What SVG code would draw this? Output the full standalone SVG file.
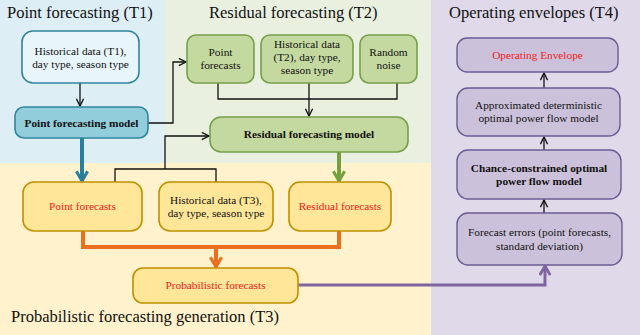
<svg xmlns="http://www.w3.org/2000/svg" width="640" height="335" viewBox="0 0 640 335" font-family="Liberation Serif, Tinos, DejaVu Serif, serif">
<defs>
<style>
text{font-family:'Liberation Serif',Tinos,'DejaVu Serif',serif;font-size:11.3px;fill:#111;text-anchor:middle}
.title{font-size:16.5px;text-anchor:start;fill:#111}
.b{font-weight:bold}
.red{fill:#f02020}
.blueL{fill:#e8f5fa;stroke:#31859c;stroke-width:1.6}
.blueD{fill:#92cddc;stroke:#31859c;stroke-width:1.6}
.green{fill:#c4d9a0;stroke:#76a04a;stroke-width:1.6}
.yellow{fill:#ffe699;stroke:#bf9000;stroke-width:1.6}
.purple{fill:#ccc1da;stroke:#6e5c94;stroke-width:1.4}
.thin{fill:none;stroke:#111;stroke-width:1.3}
</style>
<marker id="ak" viewBox="0 0 10 10" refX="9" refY="5" markerWidth="9" markerHeight="9" markerUnits="userSpaceOnUse" orient="auto"><path d="M1,1 L9,5 L1,9" fill="none" stroke="#111" stroke-width="1.5"/></marker>
<marker id="ab" viewBox="0 0 10 10" refX="8.5" refY="5" markerWidth="14" markerHeight="14" markerUnits="userSpaceOnUse" orient="auto"><path d="M1.5,1 L8.5,5 L1.5,9" fill="none" stroke="#2b7f9e" stroke-width="2.2"/></marker>
<marker id="ag" viewBox="0 0 10 10" refX="8.5" refY="5" markerWidth="14" markerHeight="14" markerUnits="userSpaceOnUse" orient="auto"><path d="M1.5,1 L8.5,5 L1.5,9" fill="none" stroke="#76a040" stroke-width="2.2"/></marker>
<marker id="ao" viewBox="0 0 10 10" refX="8.5" refY="5" markerWidth="14" markerHeight="14" markerUnits="userSpaceOnUse" orient="auto"><path d="M1.5,1 L8.5,5 L1.5,9" fill="none" stroke="#ea7020" stroke-width="2.2"/></marker>
<marker id="ap" viewBox="0 0 10 10" refX="8.5" refY="5" markerWidth="13" markerHeight="13" markerUnits="userSpaceOnUse" orient="auto"><path d="M1.5,1 L8.5,5 L1.5,9" fill="none" stroke="#8064a2" stroke-width="2.2"/></marker>
</defs>

<g id="regions">
<rect x="0" y="0" width="165" height="163" fill="#ddeef5"/>
<rect x="165" y="0" width="266" height="163" fill="#e9f0e0"/>
<rect x="0" y="163" width="431" height="172" fill="#fff2cc"/>
<rect x="431" y="0" width="209" height="335" fill="#dfd9e9"/>
<text class="title" x="7" y="18">Point forecasting (T1)</text>
<text class="title" x="209" y="18">Residual forecasting (T2)</text>
<text class="title" x="449" y="18">Operating envelopes (T4)</text>
<text class="title" x="11" y="322">Probabilistic forecasting generation (T3)</text>
</g>

<g id="connectors">
<path class="thin" d="M80,83 V106" marker-end="url(#ak)"/>
<path class="thin" d="M148,123 H173 V62 H186" marker-end="url(#ak)"/>
<path class="thin" d="M218,83 V99 H397 V83"/>
<path class="thin" d="M309,83 V116" marker-end="url(#ak)"/>
<path class="thin" d="M115,182 V169 H216 V182"/>
<path class="thin" d="M165,169 V136 H209" marker-end="url(#ak)"/>
<path d="M82,138 V181" fill="none" stroke="#2b7f9e" stroke-width="4" marker-end="url(#ab)"/>
<path d="M339,152 V181" fill="none" stroke="#76a040" stroke-width="4" marker-end="url(#ag)"/>
<path d="M83,231 V247 H339 V231" fill="none" stroke="#ea7020" stroke-width="4"/>
<path d="M216,247 V267" fill="none" stroke="#ea7020" stroke-width="4" marker-end="url(#ao)"/>
<path d="M298,285 H545 V266" fill="none" stroke="#8064a2" stroke-width="3" marker-end="url(#ap)"/>
<path class="thin" d="M544,88 V73" marker-end="url(#ak)"/>
<path class="thin" d="M544,150 V137" marker-end="url(#ak)"/>
<path class="thin" d="M544,213 V200" marker-end="url(#ak)"/>
</g>

<g id="hist-t1"><rect class="blueL" x="22" y="31" width="117" height="52" rx="11"/><text x="80.5" y="55">Historical data (T1),</text><text x="80.5" y="67.5">day type, season type</text></g>
<g id="point-model"><rect class="blueD" x="15" y="107" width="133" height="31" rx="9"/><text class="b" x="81.5" y="127">Point forecasting model</text></g>

<g id="point-fc-t2"><rect class="green" x="187" y="35" width="67" height="48" rx="9"/><text x="220.5" y="56">Point</text><text x="220.5" y="68.5">forecasts</text></g>
<g id="hist-t2"><rect class="green" x="261" y="35" width="92" height="48" rx="9"/><text x="307" y="48">Historical data</text><text x="307" y="61">(T2), day type,</text><text x="307" y="74">season type</text></g>
<g id="noise"><rect class="green" x="360" y="35" width="57" height="48" rx="9"/><text x="388.5" y="56">Random</text><text x="388.5" y="68.5">noise</text></g>
<g id="residual-model"><rect class="green" x="210" y="117" width="198" height="35" rx="11"/><text class="b" x="309" y="138">Residual forecasting model</text></g>

<g id="point-fc"><rect class="yellow" x="23" y="182" width="119" height="49" rx="11"/><text class="red" x="82.5" y="210">Point forecasts</text></g>
<g id="hist-t3"><rect class="yellow" x="159" y="182" width="114" height="49" rx="11"/><text x="216" y="203.5">Historical data (T3),</text><text x="216" y="216.5">day type, season type</text></g>
<g id="residual-fc"><rect class="yellow" x="289" y="182" width="102" height="49" rx="11"/><text class="red" x="340" y="210">Residual forecasts</text></g>
<g id="prob-fc"><rect class="yellow" x="133" y="268" width="165" height="35" rx="10"/><text class="red" x="215.5" y="289">Probabilistic forecasts</text></g>

<g id="envelope"><rect class="purple" x="457" y="38" width="161" height="34" rx="10"/><text class="red" x="537.5" y="59">Operating Envelope</text></g>
<g id="approx"><rect class="purple" x="457" y="88" width="163" height="48" rx="11"/><text x="538.5" y="109">Approximated deterministic</text><text x="538.5" y="122">optimal power flow model</text></g>
<g id="chance"><rect class="purple" x="457" y="150" width="164" height="49" rx="11"/><text class="b" x="539" y="172">Chance-constrained optimal</text><text class="b" x="539" y="185">power flow model</text></g>
<g id="errors"><rect class="purple" x="457" y="213" width="165" height="52" rx="11"/><text x="539.5" y="236">Forecast errors (point forecasts,</text><text x="539.5" y="249.5">standard deviation)</text></g>
</svg>
